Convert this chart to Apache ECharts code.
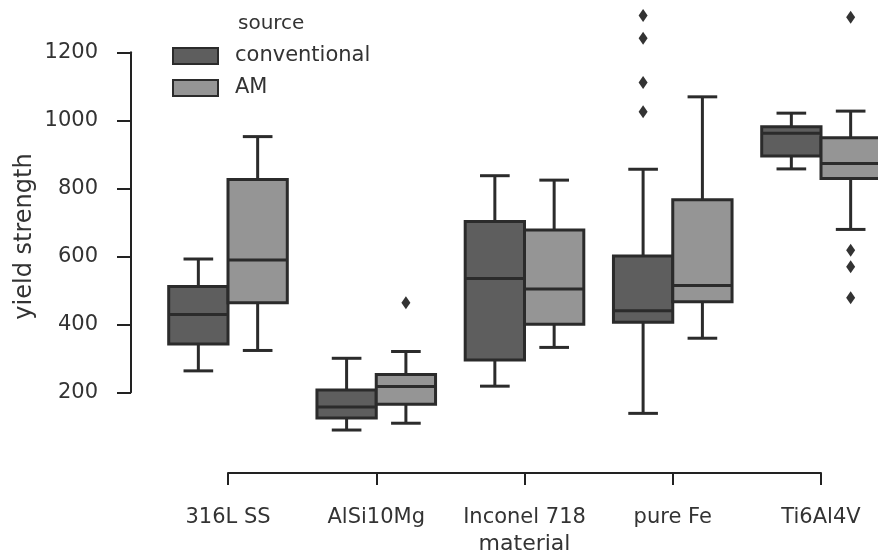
<!DOCTYPE html>
<html>
<head>
<meta charset="utf-8">
<script src="https://cdn.jsdelivr.net/npm/echarts@6/dist/echarts.min.js"></script>
<style>
  html, body { margin: 0; padding: 0; background: #fff; }
  #chart { width: 878px; height: 552px; }
</style>
</head>
<body>
<div id="chart"></div>
<script>
// materials on the x axis
const materials = ['316L SS', 'AlSi10Mg', 'Inconel 718', 'pure Fe', 'Ti6Al4V']
const yTicks = [200, 400, 600, 800, 1000, 1200]

// box stats per material: [lower whisker, Q1, median, Q3, upper whisker]
const conventionalStats = [
  [263, 342, 429, 511, 592],
  [89, 124, 157, 207, 300],
  [218, 295, 535, 702, 837],
  [138, 406, 440, 601, 856],
  [857, 895, 962, 981, 1021]
]
const amStats = [
  [323, 463, 589, 826, 952],
  [109, 165, 217, 252, 320],
  [332, 400, 504, 677, 824],
  [359, 466, 514, 766, 1069],
  [679, 829, 873, 949, 1027]
]

// outliers per material
const conventionalOutliers = [[], [], [], [1025, 1111, 1241, 1308], []]
const amOutliers = [[], [463], [], [], [478, 569, 618, 1303]]

const FONT = 'DejaVu Sans'
const EDGE = '#2b2b2b'
const CONV_FILL = '#5e5e5e'
const AM_FILL = '#959595'

const chart = echarts.init(document.getElementById('chart'))

// 画箱线图
const makeBoxRenderer = (side, fill) => (params, api) => {
  const cat = api.value(0)
  const band = api.size([1, 0])[0]
  const w = band * 0.4
  const cx = api.coord([cat, 0])[0] + side * w / 2
  const yLo = api.coord([cat, api.value(1)])[1]
  const yQ1 = api.coord([cat, api.value(2)])[1]
  const yMed = api.coord([cat, api.value(3)])[1]
  const yQ3 = api.coord([cat, api.value(4)])[1]
  const yHi = api.coord([cat, api.value(5)])[1]
  const lineStyle = { stroke: EDGE, lineWidth: 3 }
  const cap = w / 4
  return {
    type: 'group',
    children: [
      { type: 'line', shape: { x1: cx, y1: yLo, x2: cx, y2: yQ1 }, style: lineStyle },
      { type: 'line', shape: { x1: cx, y1: yQ3, x2: cx, y2: yHi }, style: lineStyle },
      { type: 'line', shape: { x1: cx - cap, y1: yLo, x2: cx + cap, y2: yLo }, style: lineStyle },
      { type: 'line', shape: { x1: cx - cap, y1: yHi, x2: cx + cap, y2: yHi }, style: lineStyle },
      {
        type: 'rect',
        shape: { x: cx - w / 2, y: yQ3, width: w, height: yQ1 - yQ3 },
        style: { fill: fill, stroke: EDGE, lineWidth: 3 }
      },
      { type: 'line', shape: { x1: cx - w / 2, y1: yMed, x2: cx + w / 2, y2: yMed }, style: lineStyle }
    ]
  }
}

// 画离群点
const makeOutlierRenderer = (side) => (params, api) => {
  const cat = api.value(0)
  const band = api.size([1, 0])[0]
  const w = band * 0.4
  const p = api.coord([cat, api.value(1)])
  const cx = p[0] + side * w / 2
  const hw = 4.5
  const hh = 6.5
  return {
    type: 'polygon',
    shape: { points: [[cx, p[1] - hh], [cx + hw, p[1]], [cx, p[1] + hh], [cx - hw, p[1]]] },
    style: { fill: '#333' }
  }
}

const boxData = (stats) => stats.map((s, i) => [i].concat(s))
const outlierData = (list) => {
  const out = []
  list.forEach((vals, i) => vals.forEach((v) => out.push([i, v])))
  return out
}

const option = {
  animation: false,
  textStyle: { fontFamily: FONT },
  title: {
    text: 'source',
    left: 238,
    top: 14,
    padding: 0,
    textStyle: { fontFamily: FONT, fontSize: 20, fontWeight: 'normal', color: '#333' }
  },
  legend: {
    orient: 'vertical',
    left: 172,
    top: 45,
    padding: 0,
    itemWidth: 45,
    itemHeight: 16,
    itemGap: 10,
    icon: 'rect',
    textStyle: { fontFamily: FONT, fontSize: 21, color: '#333', padding: [0, 0, 0, 12], lineHeight: 22 },
    data: [
      { name: 'conventional', itemStyle: { color: CONV_FILL, borderColor: EDGE, borderWidth: 2 } },
      { name: 'AM', itemStyle: { color: AM_FILL, borderColor: EDGE, borderWidth: 2 } }
    ]
  },
  grid: [
    { left: 228, right: 57, top: 0, bottom: 79, outerBoundsMode: 'none' },
    { left: 131, right: 400, top: 52.3, bottom: 159.7, outerBoundsMode: 'none' }
  ],
  xAxis: [
    {
      type: 'category',
      gridIndex: 0,
      data: materials,
      boundaryGap: false,
      axisLine: { onZero: false, lineStyle: { color: '#222', width: 2 } },
      axisTick: { alignWithLabel: true, length: 12, lineStyle: { color: '#222', width: 2 } },
      axisLabel: { fontFamily: FONT, fontSize: 21, color: '#333', margin: 34, interval: 0 },
      splitLine: { show: false },
      name: 'material',
      nameLocation: 'middle',
      nameGap: 57,
      nameTextStyle: { fontFamily: FONT, fontSize: 22, color: '#333' }
    },
    { type: 'value', gridIndex: 1, show: false }
  ],
  yAxis: [
    {
      type: 'value',
      gridIndex: 0,
      min: -37.4,
      max: 1353.8,
      axisLine: { show: false },
      axisTick: { show: false },
      axisLabel: { show: false },
      splitLine: { show: false },
      name: 'yield strength',
      nameLocation: 'middle',
      nameGap: 191,
      nameTextStyle: { fontFamily: FONT, fontSize: 24, color: '#333' }
    },
    {
      type: 'value',
      gridIndex: 1,
      min: yTicks[0],
      max: yTicks[yTicks.length - 1],
      interval: 200,
      axisLine: { show: true, lineStyle: { color: '#222', width: 2 } },
      axisTick: { show: true, length: 14, lineStyle: { color: '#222', width: 2 } },
      axisLabel: { fontFamily: FONT, fontSize: 21, color: '#333', margin: 33, formatter: (v) => String(v) },
      splitLine: { show: false }
    }
  ],
  series: [
    {
      name: 'conventional',
      type: 'custom',
      xAxisIndex: 0,
      yAxisIndex: 0,
      itemStyle: { color: CONV_FILL },
      renderItem: makeBoxRenderer(-1, CONV_FILL),
      encode: { x: 0, y: [1, 2, 3, 4, 5] },
      data: boxData(conventionalStats)
    },
    {
      name: 'AM',
      type: 'custom',
      xAxisIndex: 0,
      yAxisIndex: 0,
      itemStyle: { color: AM_FILL },
      renderItem: makeBoxRenderer(1, AM_FILL),
      encode: { x: 0, y: [1, 2, 3, 4, 5] },
      data: boxData(amStats)
    },
    {
      name: 'conventional outliers',
      type: 'custom',
      xAxisIndex: 0,
      yAxisIndex: 0,
      renderItem: makeOutlierRenderer(-1),
      encode: { x: 0, y: 1 },
      data: outlierData(conventionalOutliers)
    },
    {
      name: 'AM outliers',
      type: 'custom',
      xAxisIndex: 0,
      yAxisIndex: 0,
      renderItem: makeOutlierRenderer(1),
      encode: { x: 0, y: 1 },
      data: outlierData(amOutliers)
    }
  ]
}

chart.setOption(option)
</script>
</body>
</html>
